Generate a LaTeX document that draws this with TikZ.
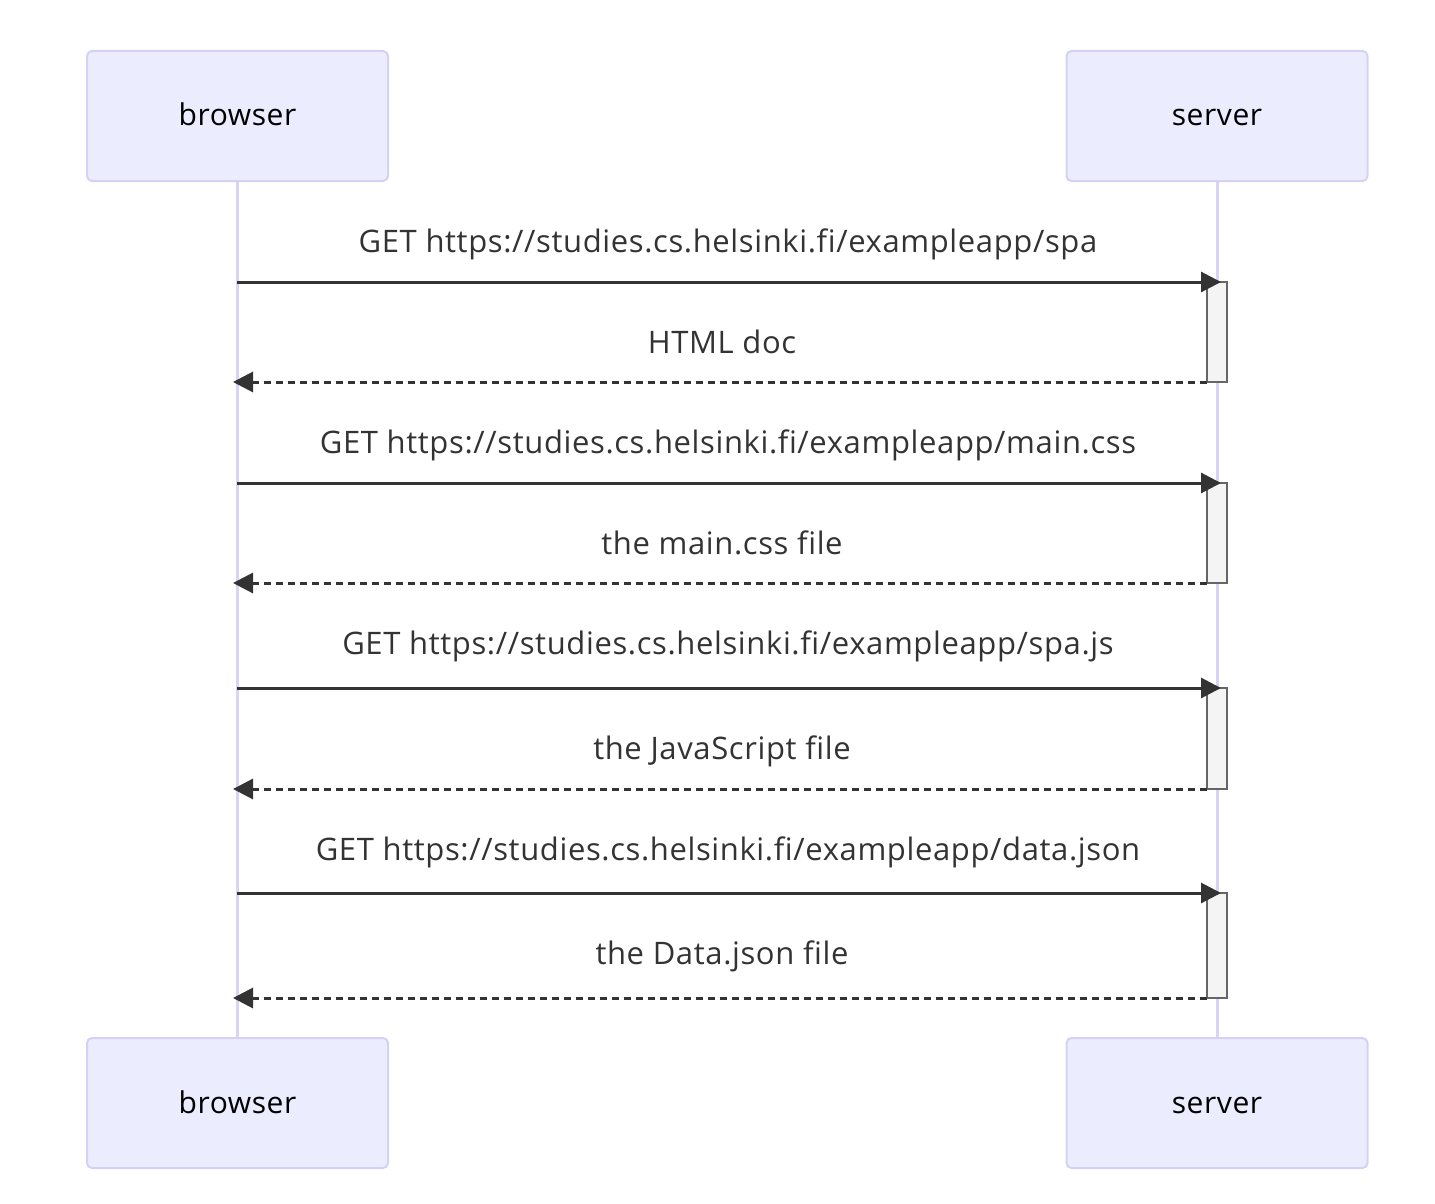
\documentclass[tikz,border=0pt]{standalone}
\usepackage{fontspec}
\setmainfont[RawFeature=-liga, LetterSpace=2]{Open Sans}
\usetikzlibrary{arrows.meta}
\definecolor{actfill}{HTML}{ECECFF}
\definecolor{actline}{HTML}{D6D0F5}
\definecolor{lifeline}{HTML}{DAD3F6}
\definecolor{ink}{HTML}{333333}
\definecolor{actvfill}{HTML}{F4F4F4}
\definecolor{actvline}{HTML}{666666}
\tikzset{
  actor/.style={draw=actline, fill=actfill, line width=2pt, rounded corners=5pt, minimum width=301pt, minimum height=130pt, inner sep=0pt, text height=24pt, text depth=4pt, font=\fontsize{30}{36}\selectfont, text=black},
  msg/.style={font=\fontsize{31}{36}\selectfont, text=ink, inner sep=0pt, anchor=base},
  call/.style={draw=ink, line width=3pt, -{Triangle[length=20pt,width=20pt]}},
  reply/.style={draw=ink, line width=3pt, dash pattern=on 7pt off 5pt, -{Triangle[length=20pt,width=20pt]}},
  activ/.style={draw=actvline, fill=actvfill, line width=2pt, minimum width=20pt, inner sep=0pt},
}
\begin{document}
\begin{tikzpicture}[x=1pt,y=-1pt]
\useasboundingbox (0,0) rectangle (1435,1204);
% lifelines
\coordinate (bl1) at (237,181);
\coordinate (bl2) at (237,1038);
\coordinate (sl1) at (1217,181);
\coordinate (sl2) at (1217,1038);
\draw[lifeline, line width=3pt] (bl1) -- (bl2);
\draw[lifeline, line width=3pt] (sl1) -- (sl2);
% actors
\node[actor] (bt) at (237.5,116) {browser};
\node[actor] (st) at (1217,116) {server};
\node[actor] (bb) at (237.5,1103) {browser};
\node[actor] (sb) at (1217,1103) {server};
% activations
\node[activ, minimum height=100pt] (a1) at (1217,332) {};
\node[activ, minimum height=100pt] (a2) at (1217,533) {};
\node[activ, minimum height=101pt] (a3) at (1217,738.5) {};
\node[activ, minimum height=105pt] (a4) at (1217,945.5) {};
% message endpoints
\foreach \n/\y in {1/282,2/483,3/688,4/893}{
  \coordinate (cs\n) at (237,\y);
  \coordinate (ce\n) at (1221,\y);
}
\foreach \n/\y in {1/382,2/583,3/789,4/998}{
  \coordinate (rs\n) at (1207,\y);
  \coordinate (re\n) at (233,\y);
}
\draw[call] (cs1) -- (ce1);
\draw[reply] (rs1) -- (re1);
\draw[call] (cs2) -- (ce2);
\draw[reply] (rs2) -- (re2);
\draw[call] (cs3) -- (ce3);
\draw[reply] (rs3) -- (re3);
\draw[call] (cs4) -- (ce4);
\draw[reply] (rs4) -- (re4);
% labels
\node[msg] (m1) at (728,252) {GET https://studies.cs.helsinki.fi/exampleapp/spa};
\node[msg] (m2) at (722,353) {HTML doc};
\node[msg] (m3) at (728,453) {GET https://studies.cs.helsinki.fi/exampleapp/main.css};
\node[msg] (m4) at (722,554) {the main.css file};
\node[msg] (m5) at (728,654) {GET https://studies.cs.helsinki.fi/exampleapp/spa.js};
\node[msg] (m6) at (722,759) {the JavaScript file};
\node[msg] (m7) at (728,860) {GET https://studies.cs.helsinki.fi/exampleapp/data.json};
\node[msg] (m8) at (722,964) {the Data.json file};
\end{tikzpicture}
\end{document}
